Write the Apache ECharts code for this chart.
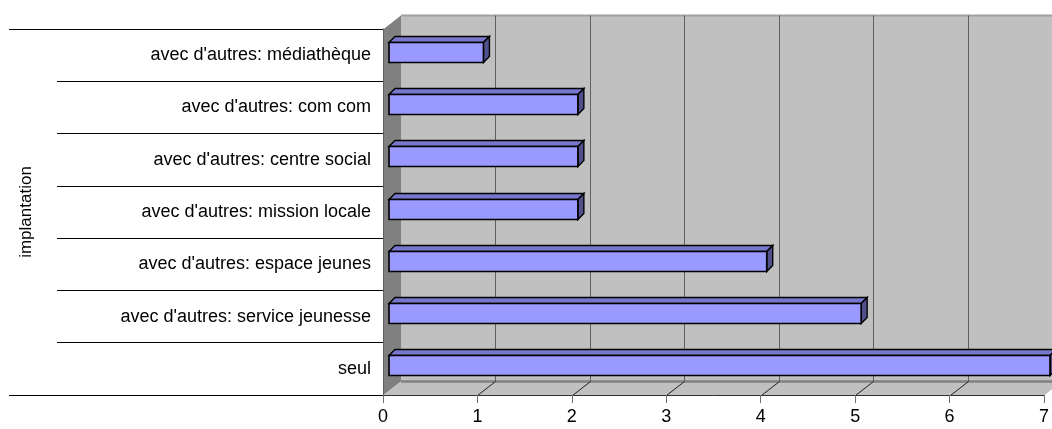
<!DOCTYPE html>
<html>
<head>
<meta charset="utf-8">
<style>html,body{margin:0;padding:0;background:#fff}#chart{width:1052px;height:429px}</style>
<script src="https://cdn.jsdelivr.net/npm/echarts@6/dist/echarts.min.js"></script>
</head>
<body>
<div id="chart"></div>
<script>
// Number of structures per type of location (bottom to top)
var categories = [
  "seul",
  "avec d'autres: service jeunesse",
  "avec d'autres: espace jeunes",
  "avec d'autres: mission locale",
  "avec d'autres: centre social",
  "avec d'autres: com com",
  "avec d'autres: médiathèque"
];
var counts = [7, 5, 4, 2, 2, 2, 1];
var ticks = [0, 1, 2, 3, 4, 5, 6, 7];
var axisTitle = "implantation";

// Oblique projection of the chart box and of the bars
var boxDX = 18, boxDY = 14;
var barDX = 6, barDY = 6, barShift = -3.5, barHalf = 10;
var FONT = '"Liberation Sans", Arial, sans-serif';

var chart = echarts.init(document.getElementById('chart'), null, {renderer: 'canvas'});

function poly(points, fill, stroke, width) {
  return {
    type: 'polygon',
    shape: {points: points},
    style: {fill: fill, stroke: stroke || null, lineWidth: width || 0}
  };
}
function seg(x1, y1, x2, y2, color, width) {
  return {
    type: 'line',
    shape: {x1: x1, y1: y1, x2: x2, y2: y2},
    style: {stroke: color, lineWidth: width || 1, fill: null}
  };
}

// Walls and floor of the box
function renderBox(params, api) {
  var band = api.size([0, 1])[1];
  var o = api.coord([0, 0]);
  var bottom = o[1] + band / 2;
  var top = api.coord([0, categories.length - 1])[1] - band / 2;
  var left = o[0];
  var right = api.coord([ticks[ticks.length - 1], 0])[0];
  var snapB = Math.round(bottom) + 0.5, snapT = Math.round(top) + 0.5;
  return {
    type: 'group',
    silent: true,
    children: [
      poly([[left + boxDX, snapT - boxDY], [right + boxDX, snapT - boxDY],
            [right + boxDX, snapB - boxDY], [left + boxDX, snapB - boxDY]], '#c0c0c0'),
      poly([[left, snapT], [left + boxDX, snapT - boxDY],
            [left + boxDX, snapB - boxDY], [left, snapB]], '#808080'),
      poly([[left, snapB], [left + boxDX, snapB - boxDY],
            [right + boxDX, snapB - boxDY], [right, snapB]], '#c0c0c0'),
      seg(left + boxDX, snapT - boxDY, right + boxDX, snapT - boxDY, '#a0a0a0', 2),
      seg(left + boxDX, snapB - boxDY, right + boxDX, snapB - boxDY, '#808080', 2.5),
      seg(9, snapT, left, snapT, '#000', 1),
      seg(9, snapB, left, snapB, '#000', 1)
    ]
  };
}

// Grid lines on the back wall, continued diagonally across the floor
function renderGrid(params, api) {
  var v = api.value(0);
  if (v === 0 || v === ticks[ticks.length - 1]) return {type: 'group', children: []};
  var band = api.size([0, 1])[1];
  var p = api.coord([v, 0]);
  var x = Math.round(p[0]) + 0.5;
  var bottom = Math.round(p[1] + band / 2) + 0.5;
  var top = Math.round(api.coord([v, categories.length - 1])[1] - band / 2) + 0.5;
  return {
    type: 'group',
    silent: true,
    children: [
      seg(x + boxDX, top - boxDY, x + boxDX, bottom - boxDY, '#606060', 1),
      seg(x, bottom, x + boxDX, bottom - boxDY, '#202020', 1)
    ]
  };
}

// One bar: front face, top face, right face
function renderBar(params, api) {
  var end = api.coord([api.value(0), api.value(1)]);
  var start = api.coord([0, api.value(1)]);
  var x0 = start[0] + barDX, x1 = end[0] + barDX;
  var y0 = Math.round(end[1] + barShift - barHalf) + 0.5;
  var y1 = Math.round(end[1] + barShift + barHalf) + 0.5;
  var edge = '#000';
  return {
    type: 'group',
    silent: true,
    children: [
      poly([[x0, y0], [x0 + barDX, y0 - barDY], [x1 + barDX, y0 - barDY], [x1, y0]], '#7777cc', edge, 1.4),
      poly([[x1, y0], [x1 + barDX, y0 - barDY], [x1 + barDX, y1 - barDY], [x1, y1]], '#50508c', edge, 1.4),
      poly([[x0, y0], [x1, y0], [x1, y1], [x0, y1]], '#9999ff', edge, 1.6)
    ]
  };
}

chart.setOption({
  animation: false,
  backgroundColor: '#fff',
  grid: {left: 383, width: 662, top: 29, height: 366},
  xAxis: {
    type: 'value',
    min: 0,
    max: 7,
    interval: 1,
    z: 5,
    splitLine: {show: false},
    axisLine: {show: true, lineStyle: {color: '#303030', width: 1}},
    axisTick: {show: true, length: 8, lineStyle: {color: '#707070', width: 1}},
    axisLabel: {color: '#000', fontFamily: FONT, fontSize: 18, margin: 13,
                showMinLabel: true, showMaxLabel: true}
  },
  yAxis: {
    type: 'category',
    data: categories,
    z: 5,
    name: axisTitle,
    nameLocation: 'middle',
    nameGap: 348,
    nameRotate: 90,
    nameTextStyle: {color: '#000', fontFamily: FONT, fontSize: 17},
    axisLine: {show: true, lineStyle: {color: '#606060', width: 1}},
    axisTick: {show: true, length: 326, alignWithLabel: false, lineStyle: {color: '#000', width: 1}},
    axisLabel: {color: '#000', fontFamily: FONT, fontSize: 18, margin: 12}
  },
  series: [
    {
      type: 'custom', z: 1, clip: false, silent: true,
      coordinateSystem: 'cartesian2d',
      data: [[0, 0]],
      renderItem: renderBox
    },
    {
      type: 'custom', z: 2, clip: false, silent: true,
      coordinateSystem: 'cartesian2d',
      data: ticks.map(function (t) { return [t, 0]; }),
      renderItem: renderGrid
    },
    {
      type: 'custom', z: 3, clip: false, silent: true,
      coordinateSystem: 'cartesian2d',
      encode: {x: 0, y: 1},
      data: counts.map(function (c, i) { return [c, i]; }),
      renderItem: renderBar
    }
  ]
});
</script>
</body>
</html>
